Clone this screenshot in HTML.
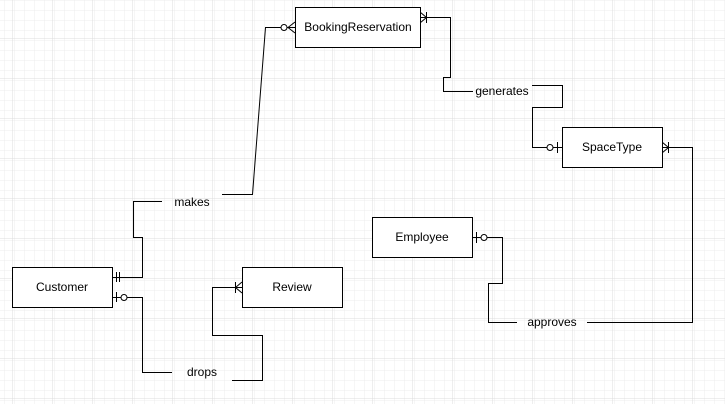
<!DOCTYPE html>
<html><head><style>
html,body{margin:0;padding:0;width:725px;height:404px;overflow:hidden;background:#fff;}
svg{display:block}
text{font-family:"Liberation Sans",sans-serif;font-size:12px;fill:#000}
</style></head><body>
<svg width="725" height="404" xmlns="http://www.w3.org/2000/svg">
<defs>
<pattern id="mi" width="10" height="10" patternUnits="userSpaceOnUse" x="2" y="2">
<path d="M10 0H0V10" fill="none" stroke="#ececec" stroke-width="1"/>
</pattern>
<pattern id="ma" width="40" height="40" patternUnits="userSpaceOnUse" x="12" y="-2">
<rect width="40" height="40" fill="url(#mi)"/>
<path d="M40 0H0V40" fill="none" stroke="#dcdcdc" stroke-width="1"/>
</pattern>
</defs>
<rect width="725" height="404" fill="url(#ma)"/>
<g fill="none" stroke="#000" stroke-width="1">
<!-- makes -->
<path d="M112.5 277.5H142.5V237.5H133.5V201.5H162"/>
<path d="M222 194.5H252.5L265.5 27.5H295"/>
<circle cx="284" cy="27.5" r="3" fill="#fff"/>
<path d="M295 22L288 27.5L295 33"/>
<path d="M116.5 272v10M119.5 272v10"/>
<!-- drops -->
<path d="M112.5 297.5H142.5V372.5H172"/>
<path d="M232 380.5H262.5V335.5H212.5V287.5H242"/>
<path d="M116.5 292v10"/><circle cx="124" cy="297.5" r="3" fill="#fff"/>
<path d="M235.5 282v11M242 282L235.5 287.5L242 293"/>
<!-- generates -->
<path d="M420 17.5H450.5V77.5H443.5V91.5H473"/>
<path d="M532 85.5H562.5V107.5H532.5V147.5H562"/>
<path d="M426.5 12v11M420 12L426.5 17.5L420 23"/>
<circle cx="550" cy="147.5" r="3" fill="#fff"/><path d="M557.5 142v11"/>
<!-- approves -->
<path d="M472 237.5H502.5V283.5H488.5V322.5H517"/>
<path d="M587 322.5H692.5V147.5H662"/>
<path d="M476.5 232v11"/><circle cx="484" cy="237.5" r="3" fill="#fff"/>
<path d="M668.5 142v11M662 142L668.5 147.5L662 153"/>
</g>
<g fill="#fff" stroke="#000" stroke-width="1">
<rect x="12.5" y="267.5" width="100" height="40"/>
<rect x="242.5" y="267.5" width="100" height="40"/>
<rect x="295.5" y="7.5" width="125" height="40"/>
<rect x="562.5" y="127.5" width="100" height="40"/>
<rect x="372.5" y="217.5" width="100" height="40"/>
</g>
<g text-anchor="middle">
<text x="62" y="291">Customer</text>
<text x="292" y="291">Review</text>
<text x="358" y="31">BookingReservation</text>
<text x="612" y="151">SpaceType</text>
<text x="422" y="241">Employee</text>
<text x="192" y="206">makes</text>
<text x="202" y="376">drops</text>
<text x="502" y="95">generates</text>
<text x="552" y="326">approves</text>
</g>
</svg>
</body></html>
